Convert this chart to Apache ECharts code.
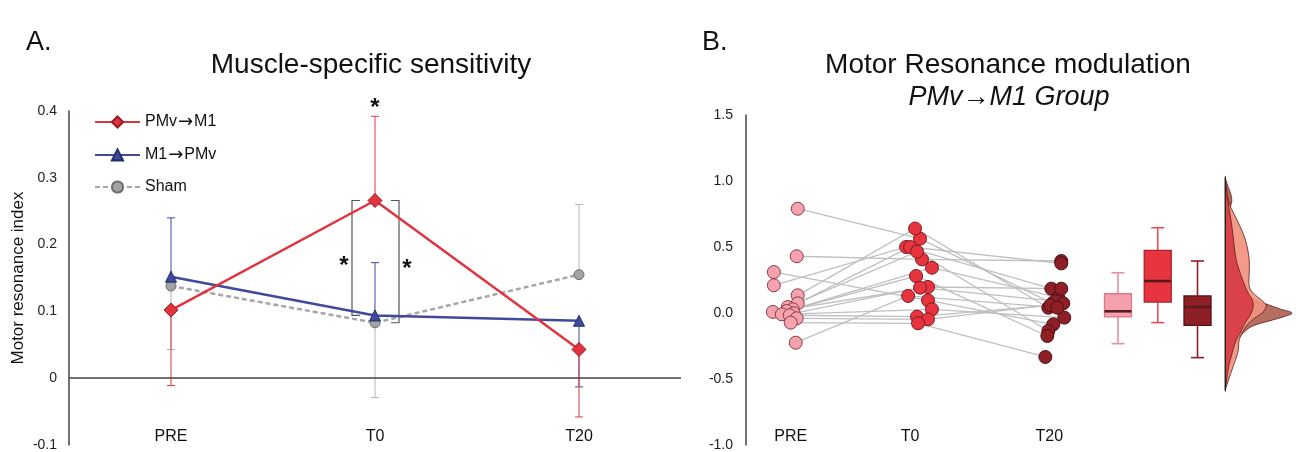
<!DOCTYPE html>
<html><head><meta charset="utf-8">
<script src="https://cdn.jsdelivr.net/npm/echarts@6/dist/echarts.min.js"></script>
<style>html,body{margin:0;padding:0;background:#fff;}#c{width:1296px;height:452px;}</style>
</head><body><div id="c"></div>
<script>
// ---------- Panel A data ----------
const timepoints = ['PRE', 'T0', 'T20'];
const pmvM1Mean   = [0.102, 0.266, 0.043];
const pmvM1ErrEnd = [-0.011, 0.392, -0.058];
const m1PmvMean   = [0.152, 0.094, 0.086];
const m1PmvErrEnd = [0.240, 0.173, -0.013];
const shamMean    = [0.138, 0.083, 0.155];
const shamErrEnd  = [0.043, -0.029, 0.260];
const yTicksA = [-0.1, 0, 0.1, 0.2, 0.3, 0.4];

// ---------- Panel B data (PMv->M1 group, one entry per subject) ----------
const preVals = [0.79, 0.43, 0.31, 0.21, 0.134, 0.073, 0.045, 0.028, 0.015, 0.008, -0.002, -0.01, -0.017, -0.04, -0.073, -0.225];
const t0Vals  = [0.563, 0.406, 0.096, 0.50, 0.64, 0.50, 0.465, 0.343, 0.28, 0.197, 0.192, 0.028, -0.028, -0.048, -0.078, 0.129];
const t20Vals = [0.073, 0.394, -0.086, 0.184, 0.04, 0.376, -0.136, 0.116, -0.174, 0.184, 0.09, -0.035, 0.058, 0.073, -0.333, 0.04];
// horizontal jitter positions of the dots
const preJitterX = [52, 51, 28, 28, 52, 52, 42, 47, 41, 27, 48, 36, 44, 51, 45, 50];
const t0JitterX  = [175, 177, 183, 161, 170, 165, 172, 187, 171, 183, 175, 187, 172, 183, 173, 163];
const t20JitterX = [308, 317, 309, 307, 304, 317, 304, 314, 303, 317, 311, 320, 306, 319, 301, 313];
const yTicksB = [-1.0, -0.5, 0.0, 0.5, 1.0, 1.5];

// box plot summaries: [min, q1, median, q3, max]
const boxPre = [-0.232, -0.03, 0.013, 0.146, 0.305];
const boxT0  = [-0.073, 0.083, 0.242, 0.475, 0.646];
const boxT20 = [-0.338, -0.093, 0.045, 0.129, 0.394];

// half-violin densities: widths read at given levels
const densityLevels = [1.02, 0.95, 0.9, 0.85, 0.8, 0.7, 0.6, 0.5, 0.4, 0.3, 0.2, 0.15, 0.1, 0.06, 0.03, 0.0, -0.03, -0.06, -0.1, -0.15, -0.2, -0.3, -0.4, -0.5, -0.58];
const densityT20 = [0, 3, 5.5, 6.5, 5, 4.5, 6, 8, 10, 13, 17, 21, 30, 44, 55, 67, 58, 44, 27, 18, 13, 6, 2.5, 0.8, 0];
const densityT0  = [0, 0.5, 1.5, 3.5, 5.5, 12, 18, 22, 24, 24, 24, 28, 36, 41, 40, 37, 31, 26, 21, 17, 14, 12.5, 8, 3.5, 0];
const densityPre = [0, 1, 1.8, 2.6, 3.5, 5.7, 7.5, 9, 11, 15, 20, 23, 27, 28, 27.5, 26, 24, 21, 18, 15, 11, 7, 3.5, 1.5, 0];

const FONT = "'Liberation Sans', Arial, sans-serif";
const chart = echarts.init(document.getElementById('c'), null, {renderer: 'canvas'});

function errSeries(name, means, ends, color) {
  return {
    type: 'custom', name: name + ' err', xAxisIndex: 0, yAxisIndex: 0, z: 1, silent: true,
    data: means.map((m, i) => [i, m, ends[i]]),
    encode: {x: 0, y: [1, 2]},
    renderItem: function (params, api) {
      const a = api.coord([api.value(0), api.value(1)]);
      const b = api.coord([api.value(0), api.value(2)]);
      return {type: 'group', children: [
        {type: 'line', shape: {x1: a[0], y1: a[1], x2: b[0], y2: b[1]}, style: {stroke: color, lineWidth: 1}},
        {type: 'line', shape: {x1: b[0] - 4, y1: b[1], x2: b[0] + 4, y2: b[1]}, style: {stroke: color, lineWidth: 1}}
      ]};
    }
  };
}

const preX = 374, t0X = 414, t20X = 454, densBase = 482; // layout positions in panel B
const boxColors = [
  {fill: '#f4a1ad', stroke: '#d9798a', whisker: '#e8909e'},
  {fill: '#e8343f', stroke: '#a8242c', whisker: '#e0505b'},
  {fill: '#8e1f26', stroke: '#561015', whisker: '#8e1f26'}
];
// drawn bottom to top: T20, T0, PRE
const densityLayers = [
  {w: densityT20, fill: 'rgba(176,98,84,0.92)'},
  {w: densityT0,  fill: 'rgba(241,146,126,0.92)'},
  {w: densityPre, fill: 'rgba(216,60,70,0.93)'}
];

const option = {
  backgroundColor: '#ffffff',
  animation: false,
  textStyle: {fontFamily: FONT},
  title: [
    {text: 'A.', left: 21, top: 24, textStyle: {fontSize: 27, fontWeight: 'normal', color: '#111', fontFamily: FONT}},
    {text: 'Muscle-specific sensitivity', left: 366, top: 46, textAlign: 'center', textStyle: {fontSize: 28, fontWeight: 'normal', color: '#111', fontFamily: FONT}},
    {text: 'B.', left: 697, top: 24, textStyle: {fontSize: 27, fontWeight: 'normal', color: '#111', fontFamily: FONT}},
    {text: 'Motor Resonance modulation', left: 1003, top: 46, textAlign: 'center', textStyle: {fontSize: 28, fontWeight: 'normal', color: '#111', fontFamily: FONT}},
    {text: 'PMv\u2192M1 Group', left: 1004, top: 79, textAlign: 'center', textStyle: {fontSize: 27, fontWeight: 'normal', fontStyle: 'italic', color: '#111', fontFamily: FONT}}
  ],
  legend: {
    orient: 'vertical', left: 89, top: 108, itemWidth: 45, itemHeight: 14, itemGap: 15,
    data: ['PMv\u2192M1', 'M1\u2192PMv', 'Sham'],
    formatter: function (name) { return name.replace('\u2192', '{ar|\u2192}'); },
    textStyle: {fontSize: 16, color: '#111', fontFamily: FONT,
      rich: {ar: {fontFamily: "'DejaVu Sans'", fontSize: 18, color: '#111', padding: [0, 1, 0, 1]}}}
  },
  grid: [
    {left: 69, top: 111, width: 612, height: 334},
    {left: 746, top: 115, width: 550, height: 330}
  ],
  xAxis: [
    {gridIndex: 0, type: 'category', data: timepoints, boundaryGap: true,
     axisLine: {show: false}, axisTick: {show: false}, splitLine: {show: false},
     axisLabel: {margin: -16, fontSize: 16, color: '#111', fontFamily: FONT}},
    {gridIndex: 1, type: 'value', min: 0, max: 550, interval: 5,
     axisLine: {show: false}, axisTick: {show: false}, splitLine: {show: false},
     axisLabel: {margin: -16, fontSize: 16, color: '#111', fontFamily: FONT,
       formatter: function (v) { return v === 45 ? timepoints[0] : v === 165 ? timepoints[1] : v === 305 ? timepoints[2] : ''; }}}
  ],
  yAxis: [
    {gridIndex: 0, type: 'value', min: yTicksA[0], max: yTicksA[yTicksA.length - 1], interval: 0.1,
     name: 'Motor resonance index', nameLocation: 'middle', nameGap: 42,
     nameTextStyle: {fontSize: 17, color: '#111', fontFamily: FONT},
     axisLine: {show: true, lineStyle: {color: '#444', width: 1.5}}, axisTick: {show: false}, splitLine: {show: false},
     axisLabel: {fontSize: 14, color: '#222', margin: 12, fontFamily: FONT,
       formatter: function (v) { const r = Math.round(v * 10) / 10; return r === 0 ? '0' : String(r); }}},
    {gridIndex: 1, type: 'value', min: yTicksB[0], max: yTicksB[yTicksB.length - 1], interval: 0.5,
     axisLine: {show: true, lineStyle: {color: '#444', width: 1.5}}, axisTick: {show: false}, splitLine: {show: false},
     axisLabel: {fontSize: 14, color: '#222', margin: 13, fontFamily: FONT,
       formatter: function (v) { return v.toFixed(1); }}}
  ],
  series: [
    errSeries('Sham', shamMean, shamErrEnd, '#b4b4b4'),
    errSeries('M1PMv', m1PmvMean, m1PmvErrEnd, '#3f4a9c'),
    errSeries('PMvM1', pmvM1Mean, pmvM1ErrEnd, '#e03a45'),
    {
      name: 'Sham', type: 'line', xAxisIndex: 0, yAxisIndex: 0, data: shamMean, z: 3,
      symbol: 'circle', symbolSize: 10,
      lineStyle: {color: '#a6a6a6', width: 2.5, type: [5, 3]},
      itemStyle: {color: '#a3a3a3', borderColor: '#6e6e6e', borderWidth: 1}
    },
    {
      name: 'M1\u2192PMv', type: 'line', xAxisIndex: 0, yAxisIndex: 0, data: m1PmvMean, z: 4,
      symbol: 'triangle', symbolSize: 11,
      lineStyle: {color: '#3f4a9c', width: 2.5},
      itemStyle: {color: '#3f4a9c', borderColor: '#262d6a', borderWidth: 1}
    },
    {
      name: 'PMv\u2192M1', type: 'line', xAxisIndex: 0, yAxisIndex: 0, data: pmvM1Mean, z: 5,
      symbol: 'diamond', symbolSize: 14,
      lineStyle: {color: '#e0343f', width: 2.5},
      itemStyle: {color: '#e0343f', borderColor: '#9a1a22', borderWidth: 1},
      markLine: {silent: true, symbol: 'none', label: {show: false},
        lineStyle: {color: '#444', type: 'solid', width: 1.5}, data: [{yAxis: 0}]}
    },
    {
      // significance brackets and stars at T0
      type: 'custom', xAxisIndex: 0, yAxisIndex: 0, z: 2, silent: true,
      data: [[1, pmvM1Mean[1], m1PmvMean[1], shamMean[1], pmvM1ErrEnd[1]]],
      encode: {x: 0, y: [1, 2, 3, 4]},
      renderItem: function (params, api) {
        const top = api.coord([api.value(0), api.value(1)]);
        const lb = api.coord([api.value(0), api.value(2)]);
        const rb = api.coord([api.value(0), api.value(3)]);
        const et = api.coord([api.value(0), api.value(4)]);
        const cx = top[0], lx = cx - 23, rx = cx + 24;
        const st = {stroke: '#555', lineWidth: 1.2, fill: null};
        const star = (x, y) => ({type: 'text', style: {x: x, y: y, text: '*', font: 'bold 24px ' + FONT, fill: '#111', align: 'center', verticalAlign: 'middle'}});
        return {type: 'group', children: [
          {type: 'polyline', shape: {points: [[lx + 8, top[1]], [lx, top[1]], [lx, lb[1]], [lx + 8, lb[1]]]}, style: st},
          {type: 'polyline', shape: {points: [[rx - 8, top[1]], [rx, top[1]], [rx, rb[1]], [rx - 8, rb[1]]]}, style: st},
          star(cx, et[1] - 8),
          star(lx - 8, (top[1] + lb[1]) / 2 + 8),
          star(rx + 8, (top[1] + rb[1]) / 2 + 8)
        ]};
      }
    },
    // ---------- Panel B ----------
    {
      type: 'custom', xAxisIndex: 1, yAxisIndex: 1, z: 1, silent: true,
      data: preVals.map((v, i) => [preJitterX[i], v, t0JitterX[i], t0Vals[i], t20JitterX[i], t20Vals[i]]),
      encode: {x: [0, 2, 4], y: [1, 3, 5]},
      renderItem: function (params, api) {
        const p1 = api.coord([api.value(0), api.value(1)]);
        const p2 = api.coord([api.value(2), api.value(3)]);
        const p3 = api.coord([api.value(4), api.value(5)]);
        return {type: 'polyline', shape: {points: [p1, p2, p3]}, style: {stroke: '#bfbfbf', lineWidth: 1.3, fill: null}};
      }
    },
    {type: 'scatter', xAxisIndex: 1, yAxisIndex: 1, z: 3, symbolSize: 13,
     data: preVals.map((v, i) => [preJitterX[i], v]),
     itemStyle: {color: '#f4a3ae', borderColor: '#8c3a45', borderWidth: 1, opacity: 1}},
    {type: 'scatter', xAxisIndex: 1, yAxisIndex: 1, z: 3, symbolSize: 13,
     data: t0Vals.map((v, i) => [t0JitterX[i], v]),
     itemStyle: {color: '#e8343f', borderColor: '#7c1a20', borderWidth: 1, opacity: 1}},
    {type: 'scatter', xAxisIndex: 1, yAxisIndex: 1, z: 3, symbolSize: 13,
     data: t20Vals.map((v, i) => [t20JitterX[i], v]),
     itemStyle: {color: '#8e1f26', borderColor: '#4e0e12', borderWidth: 1, opacity: 1}},
    {
      type: 'custom', xAxisIndex: 1, yAxisIndex: 1, z: 3, silent: true,
      data: [[preX].concat(boxPre), [t0X].concat(boxT0), [t20X].concat(boxT20)],
      encode: {x: 0, y: [1, 2, 3, 4, 5]},
      renderItem: function (params, api) {
        const c = boxColors[params.dataIndex];
        const x = api.value(0);
        const pMin = api.coord([x, api.value(1)]);
        const pQ1 = api.coord([x, api.value(2)]);
        const pMed = api.coord([x, api.value(3)]);
        const pQ3 = api.coord([x, api.value(4)]);
        const pMax = api.coord([x, api.value(5)]);
        const cx = pMin[0], hw = 13.5, cw = 6.5;
        return {type: 'group', children: [
          {type: 'line', shape: {x1: cx, y1: pMax[1], x2: cx, y2: pQ3[1]}, style: {stroke: c.whisker, lineWidth: 1.6}},
          {type: 'line', shape: {x1: cx, y1: pQ1[1], x2: cx, y2: pMin[1]}, style: {stroke: c.whisker, lineWidth: 1.6}},
          {type: 'line', shape: {x1: cx - cw, y1: pMax[1], x2: cx + cw, y2: pMax[1]}, style: {stroke: c.whisker, lineWidth: 1.6}},
          {type: 'line', shape: {x1: cx - cw, y1: pMin[1], x2: cx + cw, y2: pMin[1]}, style: {stroke: c.whisker, lineWidth: 1.6}},
          {type: 'rect', shape: {x: cx - hw, y: pQ3[1], width: 2 * hw, height: pQ1[1] - pQ3[1]}, style: {fill: c.fill, stroke: c.stroke, lineWidth: 1.3}},
          {type: 'line', shape: {x1: cx - hw, y1: pMed[1], x2: cx + hw, y2: pMed[1]}, style: {stroke: '#5a1a1e', lineWidth: 2.6}}
        ]};
      }
    },
    {
      type: 'custom', xAxisIndex: 1, yAxisIndex: 1, z: 2, silent: true,
      data: [[densBase, 0], [densBase, 1], [densBase, 2]],
      encode: {x: 0},
      renderItem: function (params, api) {
        const base = api.value(0);
        const layer = densityLayers[params.dataIndex];
        const pts = [api.coord([base, densityLevels[0]])];
        for (let k = 0; k < densityLevels.length; k++) pts.push(api.coord([base + layer.w[k], densityLevels[k]]));
        pts.push(api.coord([base, densityLevels[densityLevels.length - 1]]));
        const children = [{type: 'polygon', shape: {points: pts, smooth: 0.35}, style: {fill: layer.fill, stroke: '#5e1c1c', lineWidth: 0.8}}];
        if (params.dataIndex === 2) {
          const t = api.coord([base, densityLevels[0]]), b = api.coord([base, densityLevels[densityLevels.length - 1]]);
          children.push({type: 'line', shape: {x1: t[0], y1: t[1] - 2, x2: b[0], y2: b[1] + 2}, style: {stroke: '#222', lineWidth: 1.2}});
        }
        return {type: 'group', children: children};
      }
    }
  ]
};
chart.setOption(option);
</script>
</body></html>
